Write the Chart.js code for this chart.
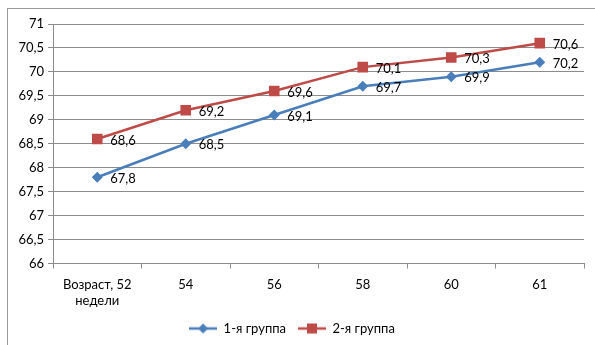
<!DOCTYPE html>
<html>
<head>
<meta charset="utf-8">
<script src="https://cdn.jsdelivr.net/npm/chart.js@4"></script>
<style>
  html, body { margin: 0; padding: 0; background: #ffffff; }
  #wrap { width: 595px; height: 345px; position: relative; }
</style>
</head>
<body>
<div id="wrap"><canvas id="c" width="595" height="345"></canvas></div>
<script>
// Age in weeks
const categories = [["Возраст, 52", "недели"], "54", "56", "58", "60", "61"];
const group1 = [67.8, 68.5, 69.1, 69.7, 69.9, 70.2];
const group2 = [68.6, 69.2, 69.6, 70.1, 70.3, 70.6];
const seriesNames = ["1-я группа", "2-я группа"];
const yMin = 66, yMax = 71, yStep = 0.5;

const BLUE = "#4a7ebb";
const RED = "#be4b48";
const GRID = "#8c8c8c";
const FONT = "Lato, 'Liberation Sans', sans-serif";

const fmt = v => String(v).replace(".", ",");

// Legend swatch: short line with the series marker in the middle
function swatch(color, shape) {
  const cv = document.createElement("canvas");
  cv.width = 28; cv.height = 14;
  const g = cv.getContext("2d");
  g.strokeStyle = color; g.lineWidth = 2.5;
  g.beginPath(); g.moveTo(0, 7); g.lineTo(28, 7); g.stroke();
  g.fillStyle = color;
  if (shape === "diamond") {
    g.beginPath(); g.moveTo(14, 2); g.lineTo(19, 7); g.lineTo(14, 12); g.lineTo(9, 7); g.closePath(); g.fill();
  } else {
    g.fillRect(9, 2, 10, 10);
  }
  return cv;
}

// Outer frame of the chart
const framePlugin = {
  id: "frame",
  beforeDraw(chart) {
    const ctx = chart.ctx;
    ctx.save();
    ctx.strokeStyle = "#9a9a9a";
    ctx.lineWidth = 1;
    ctx.strokeRect(7.5, 8.5, 700, 700);
    ctx.restore();
  }
};

// Value labels to the right of each point
const valueLabels = {
  id: "valueLabels",
  afterDatasetsDraw(chart) {
    const ctx = chart.ctx;
    ctx.save();
    ctx.font = "13px " + FONT;
    ctx.fillStyle = "#000000";
    ctx.textAlign = "left";
    ctx.textBaseline = "middle";
    chart.data.datasets.forEach((ds, i) => {
      chart.getDatasetMeta(i).data.forEach((pt, j) => {
        ctx.fillText(fmt(ds.data[j]), pt.x + 13, pt.y + 1.5);
      });
    });
    ctx.restore();
  }
};

new Chart(document.getElementById("c"), {
  type: "line",
  data: {
    labels: categories,
    datasets: [
      {
        label: seriesNames[0],
        data: group1,
        borderColor: BLUE,
        backgroundColor: BLUE,
        borderWidth: 2.5,
        pointStyle: "rectRot",
        pointRadius: 5.5,
        pointBorderWidth: 0,
        pointHoverRadius: 5.5,
        tension: 0
      },
      {
        label: seriesNames[1],
        data: group2,
        borderColor: RED,
        backgroundColor: RED,
        borderWidth: 2.5,
        pointStyle: "rect",
        pointRadius: 7.5,
        pointBorderWidth: 0,
        pointHoverRadius: 7.5,
        tension: 0
      }
    ]
  },
  options: {
    responsive: false,
    animation: false,
    devicePixelRatio: 1,
    layout: { padding: { top: 24, right: 11, left: 0, bottom: 0 } },
    plugins: {
      tooltip: { enabled: false },
      legend: {
        position: "bottom",
        labels: {
          usePointStyle: true,
          pointStyleWidth: 28,
          padding: 12,
          color: "#000000",
          font: { family: FONT, size: 13 },
          generateLabels(chart) {
            return chart.data.datasets.map((ds, i) => ({
              text: ds.label,
              fillStyle: ds.borderColor,
              strokeStyle: ds.borderColor,
              lineWidth: 0,
              pointStyle: swatch(ds.borderColor, i === 0 ? "diamond" : "square"),
              datasetIndex: i,
              hidden: false
            }));
          }
        }
      }
    },
    scales: {
      x: {
        offset: true,
        afterFit(scale) { scale.height = scale.height - 7; },
        grid: {
          offset: true,
          drawOnChartArea: false,
          drawTicks: true,
          tickLength: 5,
          color: GRID
        },
        border: { color: GRID },
        ticks: {
          color: "#000000",
          padding: 8,
          maxRotation: 0,
          font: { family: FONT, size: 13, lineHeight: 1.25 }
        }
      },
      y: {
        min: yMin,
        max: yMax,
        afterFit(scale) { scale.width = 53; },
        grid: { color: GRID, tickLength: 5, lineWidth: 1 },
        border: { color: GRID },
        ticks: {
          stepSize: yStep,
          color: "#000000",
          padding: 4,
          font: { family: FONT, size: 13 },
          callback: v => fmt(v)
        }
      }
    }
  },
  plugins: [framePlugin, valueLabels]
});
</script>
</body>
</html>
